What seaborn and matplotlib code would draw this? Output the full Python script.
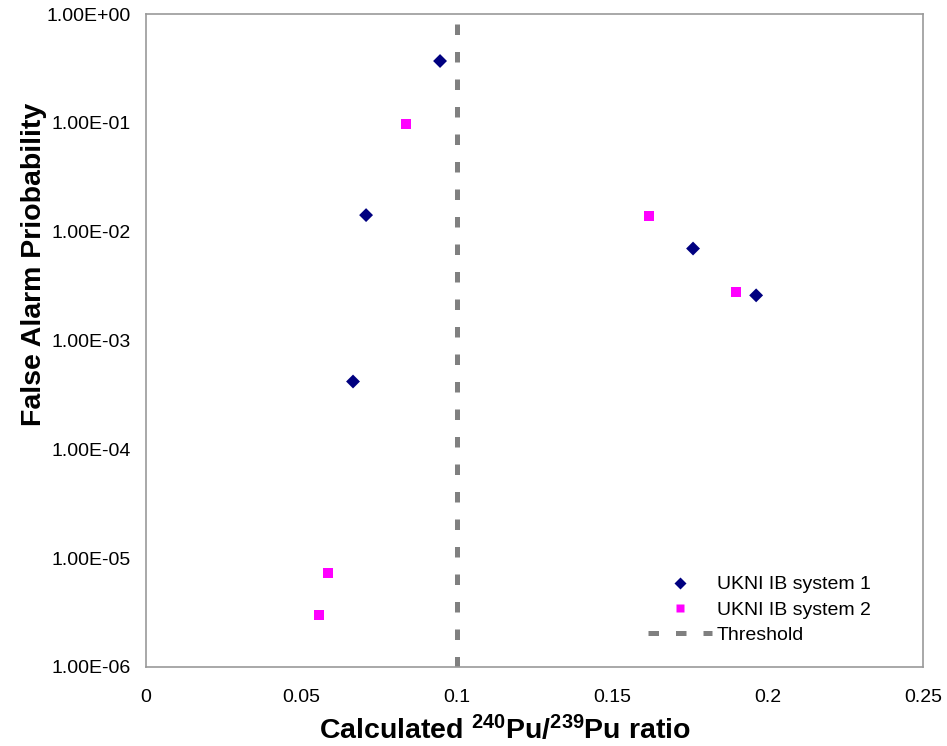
import numpy as np
import pandas as pd
import matplotlib
matplotlib.use("Agg")
import matplotlib.pyplot as plt
import matplotlib.ticker as mticker
import seaborn as sns

# data
sys1_ratio = [0.0946, 0.0708, 0.0666, 0.1760, 0.1963]
sys1_prob = [3.7e-1, 1.42e-2, 4.2e-4, 7.0e-3, 2.6e-3]
sys2_ratio = [0.0837, 0.1618, 0.1898, 0.0586, 0.0557]
sys2_prob = [9.8e-2, 1.39e-2, 2.8e-3, 7.3e-6, 3.0e-6]
threshold = 0.1
series_names = ["UKNI IB system 1", "UKNI IB system 2"]

df = pd.DataFrame({
    "ratio": sys1_ratio + sys2_ratio,
    "prob": sys1_prob + sys2_prob,
    "system": [series_names[0]] * len(sys1_ratio) + [series_names[1]] * len(sys2_ratio),
})

sns.set_style("white")
plt.rcParams["font.family"] = ["Liberation Sans", "DejaVu Sans"]
plt.rcParams["mathtext.fontset"] = "custom"
plt.rcParams["mathtext.rm"] = "Liberation Sans"
plt.rcParams["mathtext.bf"] = "Liberation Sans:bold"
plt.rcParams["text.color"] = "black"
plt.rcParams["axes.labelcolor"] = "black"
plt.rcParams["xtick.color"] = "black"
plt.rcParams["ytick.color"] = "black"

fig = plt.figure(figsize=(9.47, 7.46), dpi=100)
ax = fig.add_axes([0.1542, 0.1059, 0.8205, 0.8753])

sns.scatterplot(data=df, x="ratio", y="prob", hue="system", style="system",
                palette={series_names[0]: "#000080", series_names[1]: "#FF00FF"},
                markers={series_names[0]: "D", series_names[1]: "s"},
                s=50, edgecolor="none", ax=ax, zorder=3)
thr = ax.axvline(threshold, color="#808080", lw=3.6, label="Threshold", zorder=2)
thr.set_dashes((2.1, 3.4))

ax.set_yscale("log")
ax.set_xlim(0, 0.25)
ax.set_ylim(1e-6, 1)
ax.set_xticks([0, 0.05, 0.1, 0.15, 0.2, 0.25])
ax.set_xticklabels(["0", "0.05", "0.1", "0.15", "0.2", "0.25"])
ax.yaxis.set_major_locator(mticker.LogLocator(base=10, numticks=10))
ax.yaxis.set_minor_locator(mticker.NullLocator())
ax.yaxis.set_major_formatter(mticker.FuncFormatter(lambda v, p: f"{v:.2E}"))
ax.tick_params(axis="both", length=0, labelsize=14)
ax.tick_params(axis="y", pad=11)
ax.tick_params(axis="x", pad=16)

for sp in ax.spines.values():
    sp.set_color("#999999")
    sp.set_linewidth(1.2)

ax.set_xlabel(r"Calculated $\mathbf{^{240}Pu/^{239}Pu}$ ratio", fontsize=20.5, fontweight="bold")
ax.xaxis.set_label_coords(0.462, -0.074)
ax.set_ylabel("False Alarm Priobability", fontsize=20.5, fontweight="bold")
ax.yaxis.set_label_coords(-0.127, 0.616)

handles, labels = ax.get_legend_handles_labels()
ax.legend(handles, labels, loc="lower right", bbox_to_anchor=(0.955, 0.008),
          frameon=False, fontsize=14, handlelength=3.3, handletextpad=0.25,
          labelspacing=0.4, markerscale=0.8)

fig.savefig("out.png", dpi=100)
